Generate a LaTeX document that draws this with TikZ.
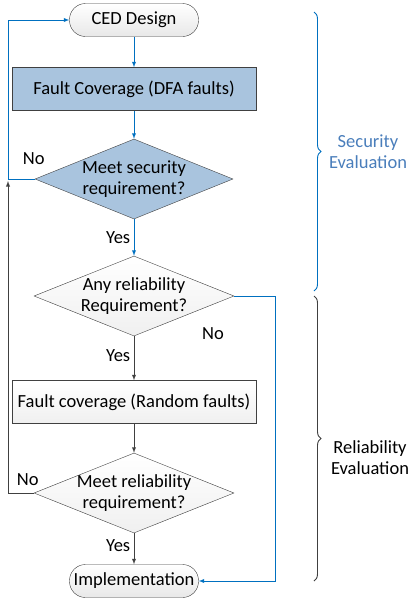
\documentclass[tikz,border=0pt]{standalone}
\usepackage{fontspec}
\setmainfont{Carlito}
\usetikzlibrary{shapes.geometric,arrows,calc,decorations.pathreplacing}

\definecolor{secblue}{RGB}{169,196,222}
\definecolor{lineblue}{RGB}{0,112,192}
\definecolor{txtblue}{RGB}{74,126,187}
\definecolor{edgegray}{RGB}{64,64,64}

\begin{document}
\begin{tikzpicture}[x=1pt,y=-1pt,node distance=90pt, >=latex,
  font=\fontsize{18.5}{21}\selectfont]
			\tikzstyle{term}=[draw=edgegray, rounded corners=16pt, minimum width=129pt, minimum height=33pt, top color=white, bottom color=gray!18]
			\tikzstyle{secbox}=[draw=edgegray, fill=secblue, minimum width=244pt, minimum height=43pt]
			\tikzstyle{relbox}=[draw=edgegray, top color=white, bottom color=gray!12, minimum width=244pt, minimum height=43pt]
			\tikzstyle{secdec}=[draw=edgegray, fill=secblue, diamond, aspect=2.5, inner sep=-10pt, minimum width=198pt, minimum height=80pt, align=center]
			\tikzstyle{reldec}=[draw=edgegray, top color=white, bottom color=gray!12, diamond, aspect=2.5, inner sep=-10pt, minimum width=200pt, minimum height=80pt, align=center]
			\tikzstyle{blueline}=[lineblue, line width=0.9pt]
			\tikzstyle{grayline}=[edgegray, line width=0.9pt]
			\useasboundingbox (0,0) rectangle (409,603);
			%Security part
			\node[term](ced) at (134,20){CED Design};
			\node[secbox](dfa)[below of = ced, node distance=69pt]{Fault Coverage (DFA faults)};
			\node[secdec](msec)[below of = dfa, node distance=90pt]{Meet security\\requirement?};
			%Reliability part
			\node[reldec](anyrel)[below of = msec, node distance=117pt]{Any reliability\\Requirement?};
			\node[relbox](rnd)[below of = anyrel, node distance=106pt]{Fault coverage (Random faults)};
			\node[reldec](mrel)[below of = rnd, node distance=91pt]{Meet reliability\\requirement?};
			\node[term](impl)[below of = mrel, node distance=88pt]{Implementation};
			%Loop points
			\coordinate (secin) at (8,181);
			%Arrows Security
			\draw[blueline, ->](ced)--(dfa);
			\draw[blueline, ->](dfa)--(msec);
			\draw[blueline, ->](msec)--(anyrel) node[pos=0.5, left, black]{Yes};
			\draw[blueline, ->](msec.west) -- (8,179) -- (8,20) -- (ced.west);
			\node (nosec) at ($(msec.west)+(-1,-20)$){No};
			\draw[blueline, ->](anyrel.east) -- (275,296) -- (275,581) -- (impl.east);
			\node (norel) at (213,334){No};
			%Arrows Reliability
			\draw[grayline, ->](anyrel)--(rnd) node[pos=0.45, left, black]{Yes};
			\draw[grayline, ->](rnd)--(mrel);
			\draw[grayline, ->](mrel.west) -- (8,493) -- (secin);
			\node (nomrel) at ($(mrel.west)+(-6,-13)$){No};
			\draw[grayline, ->](mrel)--(impl) node[pos=0.4, left, black]{Yes};
			%Braces
			\draw[lineblue, line width=0.9pt, decorate, decoration={brace, amplitude=7pt}] (314,12) -- (314,291);
			\node[txtblue, align=center] (sece) at (368,152){Security\\Evaluation};
			\draw[edgegray, line width=0.9pt, decorate, decoration={brace, amplitude=7pt}] (314,296) -- (314,581);
			\node[black, align=center] (rele) at (370,458){Reliability\\Evaluation};
\end{tikzpicture}
\end{document}
